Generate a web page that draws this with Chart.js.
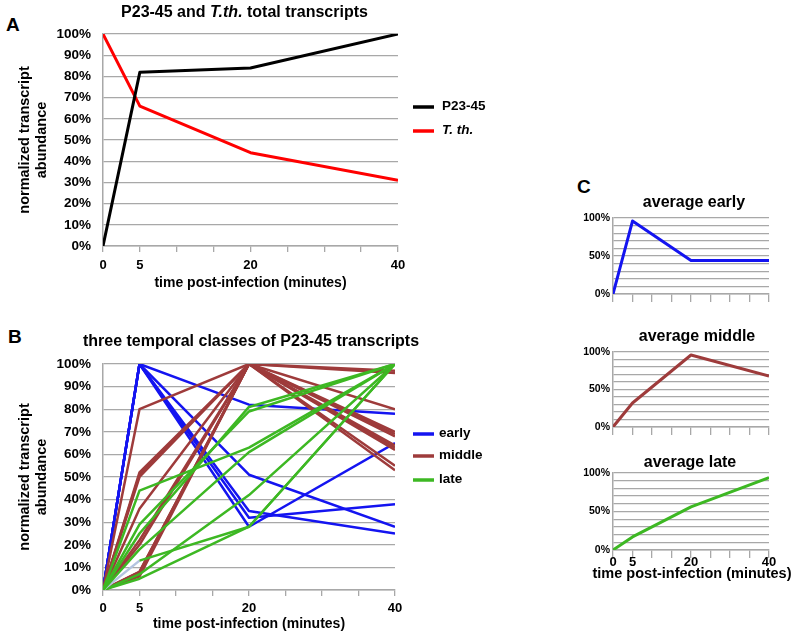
<!DOCTYPE html>
<html><head><meta charset="utf-8">
<script src="https://cdn.jsdelivr.net/npm/chart.js@4"></script>
<style>
html,body{margin:0;padding:0;background:#fff;}
body{width:800px;height:639px;position:relative;overflow:hidden;font-family:"Liberation Sans",Arial,sans-serif;}
canvas{position:absolute;}
.wrap{position:absolute;}
.lbl{position:absolute;font-weight:bold;font-size:19px;line-height:19px;color:#000;}
</style></head><body>
<div class="lbl" style="left:6px;top:15px">A</div>
<div class="lbl" style="left:8px;top:327px">B</div>
<div class="lbl" style="left:577px;top:177px">C</div>
<div class="wrap" style="left:0;top:0;width:520px;height:295px"><canvas id="cA"></canvas></div>
<div class="wrap" style="left:0;top:300px;width:520px;height:339px"><canvas id="cB"></canvas></div>
<div class="wrap" style="left:560px;top:180px;width:240px;height:130px"><canvas id="cC1"></canvas></div>
<div class="wrap" style="left:560px;top:310px;width:240px;height:130px"><canvas id="cC2"></canvas></div>
<div class="wrap" style="left:560px;top:440px;width:240px;height:199px"><canvas id="cC3"></canvas></div>
<script>
// ---------------- data ----------------
const timePoints = [0, 5, 20, 40];          // minutes post-infection
const xTickLabels = [0, 5, 20, 40];         // labelled x ticks
const yTicksAll = [0,10,20,30,40,50,60,70,80,90,100];
const yTicksSmall = [0, 50, 100];
const xAxisTitle = 'time post-infection (minutes)';

// panel A
const p2345Total = [0, 82, 84, 100];
const tthTotal   = [100, 66, 44, 31];
const panelANames = ['P23-45', 'T. th.'];

// panel B (each row is one transcript, values at timePoints)
const earlyLines = [
  [0,100,82,78],[0,100,51,28],[0,100,35,25],[0,100,32,38],[0,100,28,65]
];
const middleLines = [
  [0,80,100,97],[0,52,100,80],[0,51,100,70],[0,50,100,69],[0,36,100,68],
  [0,22,100,64],[0,20,100,63],[0,8,100,62],[0,7,100,55],[0,6,100,53],[0,8,100,96]
];
const lateLines = [
  [0,44,63,100],[0,29,79,100],[0,25,81,100],[0,18,61,100],
  [0,13,28,100],[0,7,42,100],[0,5,28,100]
];
const classNames = ['early', 'middle', 'late'];

// panel C averages
const avgEarly  = [0, 96, 44, 44];
const avgMiddle = [0, 32, 96, 68];
const avgLate   = [0, 17, 56, 94];

// ---------------- styles ----------------
const FONT = '"Liberation Sans", Arial, sans-serif';
const BLUE = '#1414f0', BROWN = '#9e3b3b', GREEN = '#3db823', RED = '#ff0000', BLACK = '#000000';
const GRID = '#a8a8a8';
Chart.defaults.font.family = FONT;
Chart.defaults.font.weight = 'bold';
Chart.defaults.color = '#000';
Chart.defaults.animation = false;

const pts = vals => timePoints.map((t, i) => ({x: t, y: vals[i]}));

const decor = {
  id: 'decor',
  afterDraw(chart, args, o) {
    const {ctx, chartArea: a} = chart;
    ctx.save();
    ctx.fillStyle = '#000';
    ctx.textBaseline = 'middle';
    if (o.title) {
      const f = it => (it ? 'italic ' : '') + 'bold ' + o.titleSize + 'px ' + FONT;
      let total = 0;
      o.title.forEach(s => { ctx.font = f(s.italic); total += ctx.measureText(s.text).width; });
      let x = (a.left + a.right) / 2 - total / 2 + (o.titleDx || 0);
      ctx.textAlign = 'left';
      o.title.forEach(s => { ctx.font = f(s.italic); ctx.fillText(s.text, x, o.titleY); x += ctx.measureText(s.text).width; });
    }
    if (o.xTitle) {
      ctx.font = 'bold ' + o.xTitleSize + 'px ' + FONT;
      ctx.textAlign = 'center';
      ctx.fillText(o.xTitle, (a.left + a.right) / 2 + (o.xTitleDx || 0), a.bottom + o.xTitleOffset);
    }
    if (o.legend) {
      o.legend.forEach((it, i) => {
        const y = o.legendY[i];
        ctx.strokeStyle = it.color; ctx.lineWidth = 3.5; ctx.lineCap = 'butt';
        ctx.beginPath(); ctx.moveTo(o.legendX0, y); ctx.lineTo(o.legendX1, y); ctx.stroke();
        ctx.font = (it.italic ? 'italic ' : '') + 'bold 13.5px ' + FONT;
        ctx.textAlign = 'left';
        ctx.fillText(it.text, o.legendTextX, y - 1);
      });
    }
    ctx.restore();
  }
};

function xScale(opts) {
  return {
    type: 'linear', min: 0, max: 40,
    afterFit: s => { s.height = opts.height; },
    ticks: {
      stepSize: 5, autoSkip: false, maxRotation: 0,
      padding: opts.tickPad,
      font: {size: 13, weight: 'bold'},
      callback: v => (opts.labels && xTickLabels.includes(v)) ? String(v) : ''
    },
    grid: {drawOnChartArea: false, drawTicks: true, tickLength: opts.tickLen, color: GRID, lineWidth: 1.3},
    border: {display: true, color: GRID, width: 1.5},
    title: opts.title ? {display: true, text: xAxisTitle,
      font: {size: opts.titleSize, weight: 'bold'}, padding: {top: 0, bottom: opts.titlePad}} : {display: false}
  };
}
function yScale(opts) {
  return {
    type: 'linear', min: 0, max: 100,
    afterFit: s => { s.width = opts.width; },
    afterBuildTicks: s => { s.ticks = yTicksAll.map(v => ({value: v})); },
    ticks: {
      padding: opts.pad, autoSkip: false,
      font: {size: opts.size, weight: 'bold'},
      callback: v => (opts.only ? (opts.only.includes(v) ? v + '%' : '') : v + '%')
    },
    grid: {drawTicks: false, color: GRID, lineWidth: 1.3},
    border: {display: true, color: GRID, width: 1.5},
    title: opts.title ? {display: true, text: ['normalized transcript', 'abundance'],
      font: {size: 14.5, weight: 'bold', lineHeight: 1.18}, padding: {top: 16.5, bottom: 0}} : {display: false}
  };
}
function lineDs(vals, color, width, order, extra) {
  return Object.assign({data: pts(vals), borderColor: color, backgroundColor: color, borderWidth: width,
    pointRadius: 0, tension: 0, fill: false, order: order, borderJoinStyle: 'round'}, extra || {});
}
function baseOptions(pad, scales, decorOpts) {
  return {
    responsive: true, maintainAspectRatio: false, animation: false,
    layout: {padding: pad},
    plugins: {legend: {display: false}, title: {display: false}, tooltip: {enabled: false}, decor: decorOpts},
    scales: scales
  };
}

// ---------------- Panel A ----------------
new Chart(document.getElementById('cA'), {
  type: 'line',
  data: {datasets: [
    lineDs(p2345Total, BLACK, 3, 0),
    lineDs(tthTotal, RED, 3, 1)
  ]},
  options: baseOptions({top: 34, right: 122, left: 0, bottom: 0}, {
    x: xScale({height: 49, tickPad: 6, tickLen: 6, labels: true, title: true, titleSize: 14, titlePad: 3}),
    y: yScale({width: 103, pad: 12, size: 13.5, title: true})
  }, {
    title: [{text: 'P23-45 and '}, {text: 'T.th.', italic: true}, {text: ' total transcripts'}],
    titleSize: 16, titleY: 13, titleDx: -6,
    legend: [{text: panelANames[0], color: BLACK}, {text: panelANames[1], color: RED, italic: true}],
    legendY: [107, 131], legendX0: 413, legendX1: 434, legendTextX: 442
  }),
  plugins: [decor]
});

// ---------------- Panel B ----------------
const bSets = [];
earlyLines.forEach(v => bSets.push(lineDs(v, BLUE, 2.5, 3)));
middleLines.forEach(v => bSets.push(lineDs(v, BROWN, 2.5, 2)));
lateLines.forEach((v, i) => bSets.push(lineDs(v, GREEN, 2.5, 1,
  i === 4 ? {segment: {borderColor: c => c.p0DataIndex === 0 ? '#b4c4e0' : GREEN}} : {})));
new Chart(document.getElementById('cB'), {
  type: 'line',
  data: {datasets: bSets},
  options: baseOptions({top: 64, right: 125, left: 0, bottom: 0}, {
    x: xScale({height: 49, tickPad: 5, tickLen: 6, labels: true, title: true, titleSize: 14, titlePad: 6}),
    y: yScale({width: 103, pad: 12, size: 13.5, title: true})
  }, {
    title: [{text: 'three temporal classes of P23-45 transcripts'}],
    titleSize: 16, titleY: 42, titleDx: 2,
    legend: [{text: classNames[0], color: BLUE}, {text: classNames[1], color: BROWN}, {text: classNames[2], color: GREEN}],
    legendY: [134, 156, 180], legendX0: 413, legendX1: 434, legendTextX: 439
  }),
  plugins: [decor]
});

// ---------------- Panel C ----------------
function smallChart(id, vals, color, name, cfg) {
  const d = {title: [{text: name}], titleSize: 16, titleY: cfg.titleY, titleDx: cfg.dx};
  if (cfg.labels) { d.xTitle = xAxisTitle; d.xTitleSize = 14.5; d.xTitleOffset = 24; d.xTitleDx = 1; }
  new Chart(document.getElementById(id), {
    type: 'line',
    data: {datasets: [lineDs(vals, color, 3, 0)]},
    options: baseOptions({top: cfg.top, right: 31, left: 0, bottom: cfg.bottom}, {
      x: xScale({height: cfg.xh, tickPad: cfg.tickPad || 0, tickLen: 8, labels: cfg.labels, title: false}),
      y: yScale({width: 53, pad: 3, size: 10.5, only: yTicksSmall})
    }, d),
    plugins: [decor]
  });
}
smallChart('cC1', avgEarly, BLUE, 'average early', {top: 38, bottom: 0, xh: 16, titleY: 23, dx: 3, labels: false});
smallChart('cC2', avgMiddle, BROWN, 'average middle', {top: 42, bottom: 0, xh: 13, titleY: 27, dx: 6, labels: false});
smallChart('cC3', avgLate, GREEN, 'average late', {top: 33, bottom: 49, xh: 40, titleY: 23, dx: -1, labels: true, tickPad: -3});
</script>
</body></html>
